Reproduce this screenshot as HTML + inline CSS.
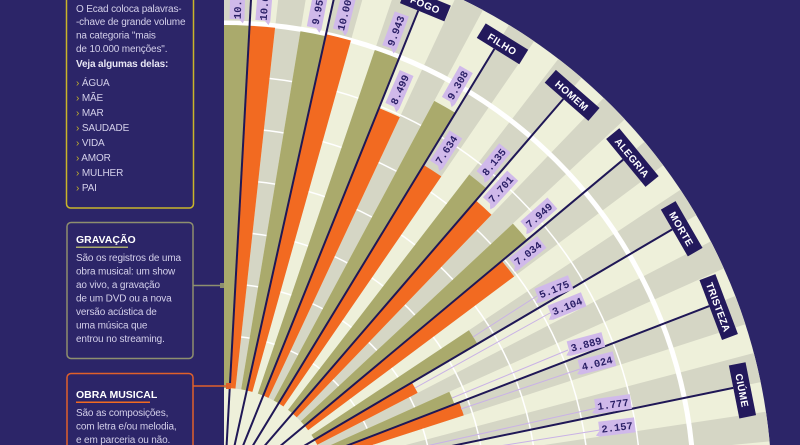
<!DOCTYPE html>
<html><head><meta charset="utf-8"><style>
html,body{margin:0;padding:0;background:#2c2568;width:800px;height:445px;overflow:hidden;}
svg{display:block;font-family:"Liberation Sans",sans-serif;}
.p{fill:#d4d0ea;font-size:10px;letter-spacing:-0.15px;}
.t{fill:#ffffff;font-size:10.5px;font-weight:bold;}
.cat{fill:#fff;font-size:10px;font-weight:bold;letter-spacing:0.4px;text-anchor:middle;}
.v{fill:#2a1f66;font-family:"Liberation Mono",monospace;font-size:10.5px;font-weight:bold;text-anchor:middle;}
</style></head><body>
<svg width="800" height="445" viewBox="0 0 800 445" xmlns="http://www.w3.org/2000/svg" overflow="hidden">
<rect width="800" height="445" fill="#2c2568"/>
<defs>
<clipPath id="q"><rect x="0" y="-600" width="600" height="600"/></clipPath>
<clipPath id="frame"><rect x="0" y="0" width="800" height="445"/></clipPath>
<path id="gw" d="M0,0 L0,-548 A548 548 0 0 1 29.95,-547.18Z"/>
</defs>
<g clip-path="url(#frame)">
<!-- Left panels -->
<rect x="66.5" y="-10" width="127" height="218" rx="4" fill="none" stroke="#c9b52a" stroke-width="1.5"/>
<text class="p" x="76" y="12">O Ecad coloca palavras-</text>
<text class="p" x="76" y="25">-chave de grande volume</text>
<text class="p" x="76" y="38.5">na categoria "mais</text>
<text class="p" x="76" y="52">de 10.000 menções".</text>
<text class="p" x="76" y="67" style="font-weight:bold;fill:#e8e6f4">Veja algumas delas:</text>
<g class="p">
<text x="76" y="86"><tspan fill="#c9b52a">›</tspan> ÁGUA</text>
<text x="76" y="101"><tspan fill="#c9b52a">›</tspan> MÃE</text>
<text x="76" y="116"><tspan fill="#c9b52a">›</tspan> MAR</text>
<text x="76" y="131"><tspan fill="#c9b52a">›</tspan> SAUDADE</text>
<text x="76" y="146"><tspan fill="#c9b52a">›</tspan> VIDA</text>
<text x="76" y="161"><tspan fill="#c9b52a">›</tspan> AMOR</text>
<text x="76" y="176"><tspan fill="#c9b52a">›</tspan> MULHER</text>
<text x="76" y="191"><tspan fill="#c9b52a">›</tspan> PAI</text>
</g>

<rect x="67" y="222.5" width="126" height="136" rx="4" fill="none" stroke="#8e8f6e" stroke-width="1.5"/>
<text class="t" x="76" y="243">GRAVAÇÃO</text>
<rect x="76" y="246.5" width="52" height="1.5" fill="#aaaa6c"/>
<g class="p">
<text x="76" y="261">São os registros de uma</text>
<text x="76" y="274.5">obra musical: um show</text>
<text x="76" y="288">ao vivo, a gravação</text>
<text x="76" y="301.5">de um DVD ou a nova</text>
<text x="76" y="315">versão acústica de</text>
<text x="76" y="328.5">uma música que</text>
<text x="76" y="342">entrou no streaming.</text>
</g>
<line x1="193" y1="285.5" x2="223" y2="285.5" stroke="#8e8f6e" stroke-width="1.5"/>
<rect x="220" y="283" width="5" height="5" fill="#8e8f6e"/>

<rect x="67" y="373.5" width="126" height="80" rx="4" fill="none" stroke="#e0602a" stroke-width="1.5"/>
<text class="t" x="76" y="398">OBRA MUSICAL</text>
<rect x="76" y="401.5" width="74" height="1.5" fill="#f26a21"/>
<g class="p">
<text x="76" y="416">São as composições,</text>
<text x="76" y="429.5">com letra e/ou melodia,</text>
<text x="76" y="443">e em parceria ou não.</text>
</g>

<!-- Fan -->
<g transform="translate(224,493)">
<g clip-path="url(#q)">
<circle r="548" fill="#eef0da"/>
<g fill="#d5d6c5">
<use href="#gw"/>
<use href="#gw" transform="rotate(6.267)"/>
<use href="#gw" transform="rotate(12.533)"/>
<use href="#gw" transform="rotate(18.8)"/>
<use href="#gw" transform="rotate(25.067)"/>
<use href="#gw" transform="rotate(31.333)"/>
<use href="#gw" transform="rotate(37.6)"/>
<use href="#gw" transform="rotate(43.867)"/>
<use href="#gw" transform="rotate(50.133)"/>
<use href="#gw" transform="rotate(56.4)"/>
<use href="#gw" transform="rotate(62.667)"/>
<use href="#gw" transform="rotate(68.933)"/>
<use href="#gw" transform="rotate(75.2)"/>
<use href="#gw" transform="rotate(81.467)"/>
<use href="#gw" transform="rotate(87.733)"/>
</g>
<g fill="none" stroke="#ffffff" stroke-width="1.5">
<circle r="157"/><circle r="209"/><circle r="261"/><circle r="313"/><circle r="365"/><circle r="417"/>
</g>
<circle r="470" fill="none" stroke="#ffffff" stroke-width="5"/>

<g fill="#aaaa6c">
<path d="M0,0 L0,-468 A468 468 0 0 1 25.58,-467.30Z"/>
<path transform="rotate(9.4)" d="M0,0 L0,-468 A468 468 0 0 1 25.58,-467.30Z"/>
<path transform="rotate(18.8)" d="M0,0 L0,-468 A468 468 0 0 1 25.58,-467.30Z"/>
<path transform="rotate(28.2)" d="M0,0 L0,-445 A445 445 0 0 1 24.32,-444.33Z"/>
<path transform="rotate(37.6)" d="M0,0 L0,-402 A402 402 0 0 1 21.97,-401.40Z"/>
<path transform="rotate(47)" d="M0,0 L0,-395 A395 395 0 0 1 21.59,-394.41Z"/>
<path transform="rotate(56.4)" d="M0,0 L0,-294 A294 294 0 0 1 16.07,-293.56Z"/>
<path transform="rotate(65.8)" d="M0,0 L0,-247 A247 247 0 0 1 13.50,-246.63Z"/>
<path transform="rotate(75.2)" d="M0,0 L0,-170 A170 170 0 0 1 9.29,-169.75Z"/>
</g>
<g fill="#f26a21">
<path transform="rotate(3.133)" d="M0,0 L0,-468 A468 468 0 0 1 25.58,-467.30Z"/>
<path transform="rotate(12.533)" d="M0,0 L0,-470 A470 470 0 0 1 25.69,-469.30Z"/>
<path transform="rotate(21.933)" d="M0,0 L0,-415 A415 415 0 0 1 22.68,-414.38Z"/>
<path transform="rotate(31.333)" d="M0,0 L0,-384 A384 384 0 0 1 20.99,-383.42Z"/>
<path transform="rotate(40.733)" d="M0,0 L0,-386 A386 386 0 0 1 21.10,-385.42Z"/>
<path transform="rotate(50.133)" d="M0,0 L0,-362 A362 362 0 0 1 19.79,-361.46Z"/>
<path transform="rotate(59.533)" d="M0,0 L0,-218 A218 218 0 0 1 11.92,-217.67Z"/>
<path transform="rotate(68.933)" d="M0,0 L0,-252 A252 252 0 0 1 13.77,-251.62Z"/>
<path transform="rotate(78.333)" d="M0,0 L0,-184 A184 184 0 0 1 10.06,-183.72Z"/>
</g>
<circle r="105" fill="#eef0da"/>

<g stroke="#1f1756" stroke-width="2">
<line x1="0" y1="0" x2="0" y2="-520" transform="rotate(3.133)"/>
<line x1="0" y1="0" x2="0" y2="-520" transform="rotate(12.533)"/>
<line x1="0" y1="0" x2="0" y2="-520" transform="rotate(21.933)"/>
<line x1="0" y1="0" x2="0" y2="-520" transform="rotate(31.333)"/>
<line x1="0" y1="0" x2="0" y2="-520" transform="rotate(40.733)"/>
<line x1="0" y1="0" x2="0" y2="-520" transform="rotate(50.133)"/>
<line x1="0" y1="0" x2="0" y2="-520" transform="rotate(59.533)"/>
<line x1="0" y1="0" x2="0" y2="-520" transform="rotate(68.933)"/>
<line x1="0" y1="0" x2="0" y2="-520" transform="rotate(78.333)"/>
<line x1="0" y1="0" x2="0" y2="-520" transform="rotate(87.733)"/>
</g>
</g>

<g transform="rotate(22.4)"><rect x="-24" y="-537" width="48" height="17" fill="#23195c"/><text class="cat" x="0" y="-524.5">FOGO</text></g>
<g transform="rotate(31.8)"><rect x="-25" y="-537" width="50" height="17" fill="#23195c"/><text class="cat" x="0" y="-524.5">FILHO</text></g>
<g transform="rotate(41.2)"><rect x="-29" y="-537" width="58" height="17" fill="#23195c"/><text class="cat" x="0" y="-524.5">HOMEM</text></g>
<g transform="rotate(50.6)"><rect x="-31" y="-537" width="62" height="17" fill="#23195c"/><text class="cat" x="0" y="-524.5">ALEGRIA</text></g>
<g transform="rotate(60)"><rect x="-27" y="-537" width="54" height="17" fill="#23195c"/><text class="cat" x="0" y="-524.5">MORTE</text></g>
<g transform="rotate(69.4)"><rect x="-32" y="-537" width="64" height="17" fill="#23195c"/><text class="cat" x="0" y="-524.5">TRISTEZA</text></g>
<g transform="rotate(78.8)"><rect x="-27" y="-537" width="54" height="17" fill="#23195c"/><text class="cat" x="0" y="-524.5">CIÚME</text></g>
<g transform="rotate(88.2)"><rect x="-30" y="-537" width="60" height="17" fill="#23195c"/><text class="cat" x="0" y="-524.5">SOL</text></g>

<g fill="#d0b9ea">
<g transform="rotate(1.567) translate(0,-493) rotate(-90)"><rect x="-19" y="-7.5" width="38" height="15"/><polygon points="-19,2 -23,6 -19,7.5"/><text class="v" y="3.8">10.125</text></g>
<g transform="rotate(4.7) translate(0,-493) rotate(-90)"><rect x="-19" y="-7.5" width="38" height="15"/><polygon points="-19,2 -23,6 -19,7.5"/><text class="v" y="3.8">10.052</text></g>
<g transform="rotate(10.967) translate(0,-493) rotate(-90)"><rect x="-19" y="-7.5" width="38" height="15"/><polygon points="-19,2 -23,6 -19,7.5"/><text class="v" y="3.8">9.950</text></g>
<g transform="rotate(14.1) translate(0,-496) rotate(-90)"><rect x="-19" y="-7.5" width="38" height="15"/><polygon points="-19,2 -23,6 -19,7.5"/><text class="v" y="3.8">10.003</text></g>
<g transform="rotate(20.367) translate(0,-493) rotate(-90)"><rect x="-18" y="-7.5" width="36" height="15"/><polygon points="-18,2 -22,6 -18,7.5"/><text class="v" y="3.8">9.943</text></g>
<g transform="rotate(23.5) translate(0,-440) rotate(-90)"><rect x="-18" y="-7.5" width="36" height="15"/><polygon points="-18,2 -22,6 -18,7.5"/><text class="v" y="3.8">8.499</text></g>
<g transform="rotate(29.767) translate(0,-470) rotate(-90)"><rect x="-18" y="-7.5" width="36" height="15"/><polygon points="-18,2 -22,6 -18,7.5"/><text class="v" y="3.8">9.308</text></g>
<g transform="rotate(32.9) translate(0,-409) rotate(-90)"><rect x="-18" y="-7.5" width="36" height="15"/><polygon points="-18,2 -22,6 -18,7.5"/><text class="v" y="3.8">7.634</text></g>
<g transform="rotate(39.167) translate(0,-427) rotate(-90)"><rect x="-18" y="-7.5" width="36" height="15"/><polygon points="-18,2 -22,6 -18,7.5"/><text class="v" y="3.8">8.135</text></g>
<g transform="rotate(42.3) translate(0,-411) rotate(-90)"><rect x="-18" y="-7.5" width="36" height="15"/><polygon points="-18,2 -22,6 -18,7.5"/><text class="v" y="3.8">7.701</text></g>
<g transform="rotate(48.567) translate(0,-420) rotate(-90)"><rect x="-18" y="-7.5" width="36" height="15"/><polygon points="-18,2 -22,6 -18,7.5"/><text class="v" y="3.8">7.949</text></g>
<g transform="rotate(51.7) translate(0,-387) rotate(-90)"><rect x="-18" y="-7.5" width="36" height="15"/><polygon points="-18,2 -22,6 -18,7.5"/><text class="v" y="3.8">7.034</text></g>
</g>
</g>

<g stroke="#c9b2e6" stroke-width="1" fill="none">
<line x1="473" y1="337" x2="537" y2="296"/>
<line x1="415" y1="388" x2="550" y2="313"/>
<line x1="452" y1="398" x2="568" y2="350"/>
<line x1="461" y1="409" x2="580" y2="369"/>
<line x1="390" y1="454" x2="597" y2="408"/>
<line x1="405" y1="461" x2="600" y2="430"/>
</g>
<g fill="#d0b9ea">
<g transform="translate(554,289) rotate(-22)"><rect x="-18" y="-7.5" width="36" height="15"/><polygon points="-18,2 -22,6 -18,7.5"/><text class="v" y="3.8">5.175</text></g>
<g transform="translate(567,306) rotate(-22)"><rect x="-18" y="-7.5" width="36" height="15"/><polygon points="-18,2 -22,6 -18,7.5"/><text class="v" y="3.8">3.104</text></g>
<g transform="translate(586,344) rotate(-15)"><rect x="-18" y="-7.5" width="36" height="15"/><polygon points="-18,2 -22,6 -18,7.5"/><text class="v" y="3.8">3.889</text></g>
<g transform="translate(597,363) rotate(-14)"><rect x="-18" y="-7.5" width="36" height="15"/><polygon points="-18,2 -22,6 -18,7.5"/><text class="v" y="3.8">4.024</text></g>
<g transform="translate(613,404) rotate(-8)"><rect x="-18" y="-7.5" width="36" height="15"/><polygon points="-18,2 -22,6 -18,7.5"/><text class="v" y="3.8">1.777</text></g>
<g transform="translate(617,427) rotate(-7)"><rect x="-18" y="-7.5" width="36" height="15"/><polygon points="-18,2 -22,6 -18,7.5"/><text class="v" y="3.8">2.157</text></g>
</g>

<line x1="193" y1="386" x2="229" y2="386" stroke="#e0602a" stroke-width="1.5"/>
<rect x="226" y="383" width="5" height="6" fill="#e0602a"/>
</g>
</svg>
</body></html>
